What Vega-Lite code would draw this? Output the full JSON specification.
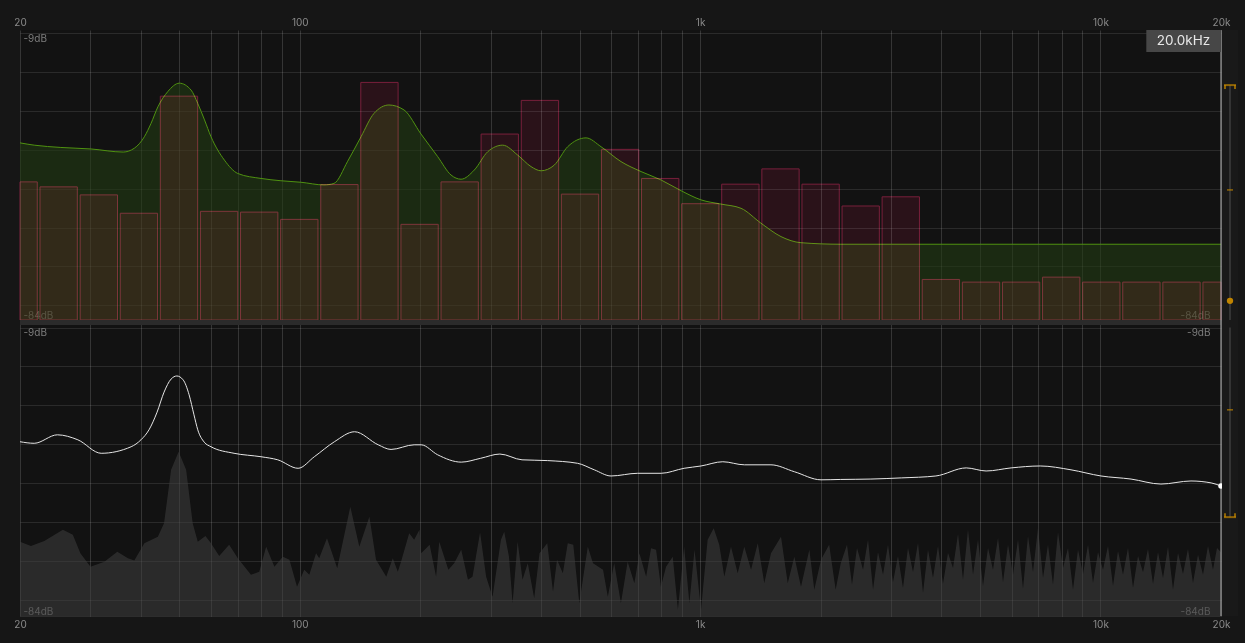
{
  "$schema": "https://vega.github.io/schema/vega-lite/v6.json",
  "background": "#161616",
  "padding": {"left": 13, "top": 17, "right": 20, "bottom": 20},
  "config": {"view": {"fill": "#121212", "stroke": null}, "font": "Inter"},
  "columns": 2,
  "spacing": {"row": 0, "column": 1},
  "bounds": "flush",
  "datasets": {
    "cursor": [{"f": 20000, "label": "20.0kHz"}],
    "sliderTop": [{"hi": -22.6, "mid": -50.0, "val": -79.0}],
    "sliderBot": [{"hi": -9.0, "mid": -30.4, "lo": -58.3}],
    "bars": [
      {"f0": 20, "f1": 22.09, "db": -47.9}, {"f0": 22.44, "f1": 27.81, "db": -49.2}, {"f0": 28.27, "f1": 35.04, "db": -51.3},
      {"f0": 35.6, "f1": 44.12, "db": -56.1}, {"f0": 44.83, "f1": 55.56, "db": -25.5}, {"f0": 56.46, "f1": 69.98, "db": -55.6},
      {"f0": 71.11, "f1": 88.13, "db": -55.8}, {"f0": 89.55, "f1": 111.0, "db": -57.7}, {"f0": 112.8, "f1": 139.8, "db": -48.6},
      {"f0": 142.0, "f1": 176.0, "db": -21.9}, {"f0": 178.9, "f1": 221.7, "db": -59.0}, {"f0": 225.3, "f1": 279.2, "db": -47.9},
      {"f0": 283.7, "f1": 351.6, "db": -35.4}, {"f0": 357.4, "f1": 443.0, "db": -26.6}, {"f0": 450.1, "f1": 557.8, "db": -51.1},
      {"f0": 566.8, "f1": 702.5, "db": -39.4}, {"f0": 713.8, "f1": 884.7, "db": -47.0}, {"f0": 899.0, "f1": 1114, "db": -53.6},
      {"f0": 1132, "f1": 1403, "db": -48.5}, {"f0": 1426, "f1": 1767, "db": -44.5}, {"f0": 1796, "f1": 2226, "db": -48.5},
      {"f0": 2262, "f1": 2803, "db": -54.2}, {"f0": 2848, "f1": 3530, "db": -51.8}, {"f0": 3587, "f1": 4446, "db": -73.4},
      {"f0": 4518, "f1": 5600, "db": -74.1}, {"f0": 5690, "f1": 7052, "db": -74.1}, {"f0": 7166, "f1": 8882, "db": -72.8},
      {"f0": 9025, "f1": 11186, "db": -74.1}, {"f0": 11366, "f1": 14087, "db": -74.1}, {"f0": 14315, "f1": 17742, "db": -74.1},
      {"f0": 18028, "f1": 20000, "db": -74.1}
    ],
    "eq": [
      {"f": 20, "db": -37.7}, {"f": 21.7, "db": -38.3}, {"f": 25.3, "db": -38.9}, {"f": 30.1, "db": -39.3}, {"f": 36.2, "db": -40.1},
      {"f": 38.6, "db": -39.1}, {"f": 40.9, "db": -36.1}, {"f": 42.5, "db": -32.6}, {"f": 44.2, "db": -28.3}, {"f": 46.8, "db": -24.3},
      {"f": 50.0, "db": -22.1}, {"f": 53.5, "db": -23.9}, {"f": 55.6, "db": -27.4}, {"f": 57.8, "db": -31.7}, {"f": 60.0, "db": -36.1},
      {"f": 64.8, "db": -42.2}, {"f": 70.0, "db": -45.7}, {"f": 80, "db": -47.0}, {"f": 89.7, "db": -47.6}, {"f": 100.7, "db": -48.0},
      {"f": 114.9, "db": -48.7}, {"f": 121.7, "db": -48.3}, {"f": 131.7, "db": -42.5}, {"f": 142.2, "db": -36.1}, {"f": 153.2, "db": -30.0},
      {"f": 167, "db": -27.8}, {"f": 182.1, "db": -29.1}, {"f": 200.8, "db": -35.4}, {"f": 221, "db": -41.3}, {"f": 238.6, "db": -46.1},
      {"f": 252.8, "db": -47.2}, {"f": 272.8, "db": -44.8}, {"f": 294.8, "db": -40.0}, {"f": 321.2, "db": -38.3}, {"f": 350.2, "db": -40.9},
      {"f": 378, "db": -43.9}, {"f": 400.4, "db": -45.0}, {"f": 432.2, "db": -43.5}, {"f": 466.8, "db": -38.7}, {"f": 518.8, "db": -36.4},
      {"f": 565.4, "db": -38.7}, {"f": 634.3, "db": -42.6}, {"f": 711.7, "db": -45.2}, {"f": 798.6, "db": -47.4}, {"f": 895.8, "db": -50.2},
      {"f": 1005, "db": -52.6}, {"f": 1127, "db": -53.7}, {"f": 1265, "db": -54.8}, {"f": 1419, "db": -58.7}, {"f": 1592, "db": -62.2},
      {"f": 1787, "db": -63.8}, {"f": 2248, "db": -64.2}, {"f": 20000, "db": -64.2}
    ],
    "resp": [
      {"f": 20, "db": -38.7}, {"f": 21.7, "db": -39.1}, {"f": 24.8, "db": -36.9}, {"f": 27.9, "db": -38.2}, {"f": 31.9, "db": -41.7},
      {"f": 37.9, "db": -40.0}, {"f": 40.1, "db": -38.2}, {"f": 42.0, "db": -35.6}, {"f": 44.0, "db": -31.0}, {"f": 45.8, "db": -25.8},
      {"f": 47.7, "db": -22.4}, {"f": 49.3, "db": -21.6}, {"f": 51.1, "db": -22.6}, {"f": 52.9, "db": -26.5}, {"f": 54.4, "db": -31.7},
      {"f": 55.6, "db": -35.6}, {"f": 57.7, "db": -38.8}, {"f": 60.0, "db": -40.0}, {"f": 68.5, "db": -41.7}, {"f": 80.0, "db": -42.6},
      {"f": 88.1, "db": -43.4}, {"f": 99.0, "db": -45.6}, {"f": 108.7, "db": -42.6}, {"f": 122, "db": -38.7}, {"f": 137, "db": -36.1},
      {"f": 157, "db": -39.5}, {"f": 169, "db": -40.7}, {"f": 193, "db": -39.5}, {"f": 201, "db": -39.5}, {"f": 221, "db": -42.1},
      {"f": 253, "db": -44.0}, {"f": 283, "db": -43.0}, {"f": 316, "db": -41.9}, {"f": 359, "db": -43.4}, {"f": 416, "db": -43.6},
      {"f": 494, "db": -44.3}, {"f": 544, "db": -46.0}, {"f": 599, "db": -47.6}, {"f": 698, "db": -46.9}, {"f": 799, "db": -46.9},
      {"f": 912, "db": -45.6}, {"f": 1005, "db": -45.0}, {"f": 1139, "db": -43.9}, {"f": 1290, "db": -44.7}, {"f": 1503, "db": -44.7},
      {"f": 1720, "db": -46.5}, {"f": 2004, "db": -48.6}, {"f": 2245, "db": -48.5}, {"f": 2670, "db": -48.4}, {"f": 3180, "db": -48.1},
      {"f": 3880, "db": -47.6}, {"f": 4620, "db": -45.5}, {"f": 5180, "db": -46.3}, {"f": 5980, "db": -45.5}, {"f": 7070, "db": -45.0},
      {"f": 8440, "db": -46.0}, {"f": 10030, "db": -47.6}, {"f": 11920, "db": -48.4}, {"f": 14160, "db": -49.7}, {"f": 16830, "db": -48.9},
      {"f": 18900, "db": -49.4}, {"f": 20000, "db": -50.2}
    ],
    "spec": [
      {"f": 20, "db": -64.7}, {"f": 21.3, "db": -65.8}, {"f": 23.0, "db": -64.5}, {"f": 25.6, "db": -61.6}, {"f": 27.1, "db": -62.9},
      {"f": 28.3, "db": -67.7}, {"f": 30.0, "db": -71.2}, {"f": 32.5, "db": -69.9}, {"f": 35.0, "db": -67.3}, {"f": 37.2, "db": -69.0},
      {"f": 38.6, "db": -69.6}, {"f": 40.9, "db": -65.1}, {"f": 44.2, "db": -63.4}, {"f": 45.8, "db": -59.9}, {"f": 47.7, "db": -46.0},
      {"f": 49.8, "db": -41.3}, {"f": 52.0, "db": -46.0}, {"f": 54.0, "db": -59.9}, {"f": 55.6, "db": -64.7}, {"f": 58.1, "db": -63.2},
      {"f": 60.0, "db": -65.1}, {"f": 62.9, "db": -68.4}, {"f": 66.6, "db": -65.5}, {"f": 70.0, "db": -69.0}, {"f": 75.5, "db": -73.3},
      {"f": 79.2, "db": -72.5}, {"f": 82.4, "db": -66.0}, {"f": 86.4, "db": -71.2}, {"f": 90.7, "db": -68.6}, {"f": 94.2, "db": -69.4},
      {"f": 98.4, "db": -76.4}, {"f": 102.6, "db": -72.0}, {"f": 105.6, "db": -73.3}, {"f": 109.8, "db": -67.7}, {"f": 111.8, "db": -69.0},
      {"f": 116.9, "db": -63.8}, {"f": 124.0, "db": -71.6}, {"f": 133.7, "db": -55.6}, {"f": 140.8, "db": -66.0}, {"f": 149.2, "db": -58.2},
      {"f": 155, "db": -69.4}, {"f": 164.4, "db": -73.8}, {"f": 170.7, "db": -69.0}, {"f": 175.7, "db": -72.5}, {"f": 179, "db": -69.9},
      {"f": 187.6, "db": -62.5}, {"f": 193, "db": -64.2}, {"f": 199, "db": -61.6}, {"f": 201, "db": -67.7}, {"f": 211, "db": -65.5},
      {"f": 219, "db": -73.8}, {"f": 223, "db": -64.7}, {"f": 235, "db": -72.0}, {"f": 243, "db": -70.3}, {"f": 253, "db": -66.8},
      {"f": 263, "db": -74.6}, {"f": 270, "db": -73.8}, {"f": 282, "db": -62.3}, {"f": 292, "db": -73.8}, {"f": 303, "db": -79.0},
      {"f": 318, "db": -64.2}, {"f": 324, "db": -62.1}, {"f": 333, "db": -68.6}, {"f": 340, "db": -80.7}, {"f": 350, "db": -64.7},
      {"f": 360, "db": -74.6}, {"f": 371, "db": -70.3}, {"f": 385, "db": -79.4}, {"f": 397, "db": -67.7}, {"f": 415, "db": -65.1},
      {"f": 429, "db": -77.7}, {"f": 439, "db": -69.4}, {"f": 454, "db": -72.9}, {"f": 467, "db": -65.1}, {"f": 482, "db": -65.5},
      {"f": 499, "db": -80.7}, {"f": 524, "db": -66.0}, {"f": 540, "db": -70.3}, {"f": 572, "db": -72.0}, {"f": 588, "db": -79.0},
      {"f": 610, "db": -70.3}, {"f": 634, "db": -80.7}, {"f": 659, "db": -69.9}, {"f": 685, "db": -75.5}, {"f": 705, "db": -67.7},
      {"f": 733, "db": -73.8}, {"f": 754, "db": -66.4}, {"f": 776, "db": -66.8}, {"f": 798, "db": -76.4}, {"f": 822, "db": -71.2},
      {"f": 854, "db": -68.6}, {"f": 880, "db": -82.4}, {"f": 912, "db": -66.0}, {"f": 940, "db": -80.7}, {"f": 968, "db": -66.8},
      {"f": 1005, "db": -82.4}, {"f": 1044, "db": -64.2}, {"f": 1081, "db": -61.2}, {"f": 1116, "db": -65.5}, {"f": 1149, "db": -73.8},
      {"f": 1194, "db": -66.0}, {"f": 1241, "db": -72.9}, {"f": 1289, "db": -66.0}, {"f": 1340, "db": -72.0}, {"f": 1393, "db": -65.1},
      {"f": 1446, "db": -75.5}, {"f": 1503, "db": -67.7}, {"f": 1592, "db": -63.4}, {"f": 1655, "db": -75.5}, {"f": 1719, "db": -68.6},
      {"f": 1786, "db": -76.4}, {"f": 1874, "db": -66.8}, {"f": 1928, "db": -77.2}, {"f": 2004, "db": -69.4}, {"f": 2100, "db": -65.5},
      {"f": 2180, "db": -77.2}, {"f": 2245, "db": -70.3}, {"f": 2327, "db": -65.5}, {"f": 2395, "db": -75.9}, {"f": 2465, "db": -66.3},
      {"f": 2552, "db": -72.0}, {"f": 2626, "db": -64.2}, {"f": 2703, "db": -77.2}, {"f": 2781, "db": -67.4}, {"f": 2863, "db": -73.3},
      {"f": 2946, "db": -65.5}, {"f": 3032, "db": -75.2}, {"f": 3120, "db": -68.4}, {"f": 3211, "db": -76.7}, {"f": 3305, "db": -66.3},
      {"f": 3402, "db": -72.6}, {"f": 3501, "db": -65.0}, {"f": 3603, "db": -78.0}, {"f": 3708, "db": -66.8}, {"f": 3816, "db": -74.1},
      {"f": 3928, "db": -65.8}, {"f": 4042, "db": -75.7}, {"f": 4160, "db": -67.6}, {"f": 4282, "db": -71.5}, {"f": 4407, "db": -62.7},
      {"f": 4535, "db": -74.6}, {"f": 4667, "db": -61.6}, {"f": 4804, "db": -73.3}, {"f": 4944, "db": -64.2}, {"f": 5088, "db": -76.2},
      {"f": 5237, "db": -66.3}, {"f": 5389, "db": -72.0}, {"f": 5547, "db": -63.7}, {"f": 5708, "db": -75.2}, {"f": 5875, "db": -65.5},
      {"f": 6046, "db": -73.3}, {"f": 6223, "db": -64.2}, {"f": 6404, "db": -77.0}, {"f": 6591, "db": -63.2}, {"f": 6783, "db": -72.6},
      {"f": 6981, "db": -61.1}, {"f": 7185, "db": -74.1}, {"f": 7394, "db": -65.5}, {"f": 7610, "db": -75.9}, {"f": 7832, "db": -62.2},
      {"f": 8061, "db": -71.5}, {"f": 8296, "db": -66.3}, {"f": 8538, "db": -77.2}, {"f": 8787, "db": -66.8}, {"f": 9044, "db": -73.1},
      {"f": 9308, "db": -65.5}, {"f": 9579, "db": -75.4}, {"f": 9859, "db": -67.4}, {"f": 10146, "db": -72.0}, {"f": 10442, "db": -65.8},
      {"f": 10747, "db": -76.2}, {"f": 11060, "db": -67.1}, {"f": 11383, "db": -73.3}, {"f": 11715, "db": -66.3}, {"f": 12057, "db": -76.7},
      {"f": 12409, "db": -68.4}, {"f": 12771, "db": -72.6}, {"f": 13143, "db": -66.6}, {"f": 13527, "db": -75.7}, {"f": 13921, "db": -67.4},
      {"f": 14328, "db": -74.1}, {"f": 14746, "db": -66.0}, {"f": 15176, "db": -77.2}, {"f": 15619, "db": -67.6}, {"f": 16074, "db": -73.1},
      {"f": 16543, "db": -66.6}, {"f": 17025, "db": -75.4}, {"f": 17522, "db": -68.1}, {"f": 18033, "db": -73.3}, {"f": 18560, "db": -65.8},
      {"f": 19101, "db": -72.0}, {"f": 19546, "db": -66.3}, {"f": 20000, "db": -67.4}
    ]
  },
  "concat": [
    {
      "width": 1201,
      "height": 290,
      "resolve": {"axis": {"y": "independent"}},
      "layer": [
        {
          "data": {"name": "eq"},
          "mark": {"type": "area", "interpolate": "monotone", "fill": "#213a12", "fillOpacity": 0.6,
                   "line": {"color": "#4f9210", "strokeWidth": 1}},
          "encoding": {
            "x": {"field": "f", "type": "quantitative", "scale": {"type": "log", "domain": [20, 20000], "nice": false},
                  "axis": {"orient": "top", "title": null, "values": [20,30,40,50,60,70,80,90,100,200,300,400,500,600,700,800,900,1000,2000,3000,4000,5000,6000,7000,8000,9000,10000,20000],
                           "labelExpr": "datum.value == 20 ? '20' : datum.value == 100 ? '100' : datum.value == 1000 ? '1k' : datum.value == 10000 ? '10k' : datum.value == 20000 ? '20k' : ''",
                           "grid": true, "gridColor": "#ffffff", "gridOpacity": 0.15, "ticks": false, "tickSize": 0, "domain": false,
                           "labelColor": "#8a8a8a", "labelFontSize": 10, "labelPadding": 3, "labelFlush": false, "labelOverlap": false}},
            "y": {"field": "db", "type": "quantitative", "scale": {"domain": [-84, -8.2], "nice": false, "zero": false},
                  "axis": {"orient": "left", "title": null, "values": [-9, -19.19, -29.38, -39.57, -49.76, -59.95, -70.0, -80.2, -84],
                           "labelExpr": "datum.value == -9 ? '-9dB' : datum.value == -84 ? '-84dB' : ''",
                           "grid": true, "gridColor": "#ffffff", "gridOpacity": 0.1, "ticks": false, "tickSize": 0, "domain": false,
                           "labelAlign": "left", "labelPadding": -3, "labelColor": "#7d7d7d", "labelFontSize": 10,
                           "labelBaseline": {"condition": {"test": "datum.value == -9", "value": "top"}, "value": "bottom"},
                           "labelFlush": false, "labelOverlap": false}},
            "y2": {"datum": -84}
          }
        },
        {
          "data": {"name": "bars"},
          "mark": {"type": "rect", "fill": "#1a0008", "stroke": "#6e0e2c", "strokeWidth": 1, "blend": "screen"},
          "encoding": {
            "x": {"field": "f0", "type": "quantitative", "scale": {"type": "log", "domain": [20, 20000], "nice": false}},
            "x2": {"field": "f1"},
            "y": {"field": "db", "type": "quantitative", "scale": {"domain": [-84, -8.2], "nice": false, "zero": false},
                  "axis": {"orient": "right", "title": null, "values": [-84], "labelExpr": "'-84dB'", "grid": false,
                           "ticks": false, "tickSize": 0, "domain": false, "labelAlign": "right", "labelPadding": -11,
                           "labelBaseline": "bottom", "labelColor": "#7d7d7d", "labelFontSize": 10, "labelFlush": false}},
            "y2": {"datum": -84}
          }
        },
        {
          "data": {"name": "cursor"},
          "mark": {"type": "rule", "color": "#b4b4b4", "strokeWidth": 1},
          "encoding": {"x": {"field": "f", "type": "quantitative", "scale": {"type": "log", "domain": [20, 20000], "nice": false}}}
        },
        {
          "data": {"name": "cursor"},
          "mark": {"type": "rect", "fill": "#474747"},
          "encoding": {
            "x": {"field": "f", "type": "quantitative", "scale": {"type": "log", "domain": [20, 20000], "nice": false}},
            "x2": {"datum": 13015},
            "y": {"datum": -8.2, "type": "quantitative", "scale": {"domain": [-84, -8.2], "nice": false, "zero": false}, "axis": null},
            "y2": {"datum": -13.96}
          }
        },
        {
          "data": {"name": "cursor"},
          "mark": {"type": "text", "color": "#e8e8e8", "fontSize": 13.5, "align": "center", "baseline": "middle"},
          "encoding": {
            "x": {"datum": 16120, "type": "quantitative", "scale": {"type": "log", "domain": [20, 20000], "nice": false}},
            "y": {"datum": -11.1, "type": "quantitative", "scale": {"domain": [-84, -8.2], "nice": false, "zero": false}, "axis": null},
            "text": {"field": "label"}
          }
        }
      ]
    },
    {
      "width": 16,
      "height": 290,
      "view": {"fill": "#191919", "stroke": null},
      "data": {"name": "sliderTop"},
      "encoding": {
        "x": {"datum": 0, "type": "quantitative", "scale": {"domain": [-1, 1]}, "axis": null}
      },
      "layer": [
        {
          "mark": {"type": "rule", "color": "#3e3e3e", "strokeWidth": 1.5},
          "encoding": {"y": {"field": "hi", "type": "quantitative", "scale": {"domain": [-84, -8.2], "nice": false, "zero": false}, "axis": null}, "y2": {"datum": -84}}
        },
        {
          "mark": {"type": "tick", "orient": "horizontal", "color": "#c08400", "size": 12, "thickness": 2},
          "encoding": {"y": {"field": "hi", "type": "quantitative", "scale": {"domain": [-84, -8.2], "nice": false, "zero": false}, "axis": null}}
        },
        {
          "mark": {"type": "tick", "orient": "vertical", "color": "#c08400", "size": 4, "thickness": 2, "xOffset": -5, "yOffset": 2},
          "encoding": {"y": {"field": "hi", "type": "quantitative", "scale": {"domain": [-84, -8.2], "nice": false, "zero": false}, "axis": null}}
        },
        {
          "mark": {"type": "tick", "orient": "vertical", "color": "#c08400", "size": 4, "thickness": 2, "xOffset": 5, "yOffset": 2},
          "encoding": {"y": {"field": "hi", "type": "quantitative", "scale": {"domain": [-84, -8.2], "nice": false, "zero": false}, "axis": null}}
        },
        {
          "mark": {"type": "tick", "orient": "horizontal", "color": "#c08400", "size": 6, "thickness": 1.5},
          "encoding": {"y": {"field": "mid", "type": "quantitative", "scale": {"domain": [-84, -8.2], "nice": false, "zero": false}, "axis": null}}
        },
        {
          "mark": {"type": "point", "filled": true, "color": "#c08400", "size": 40, "opacity": 1},
          "encoding": {"y": {"field": "val", "type": "quantitative", "scale": {"domain": [-84, -8.2], "nice": false, "zero": false}, "axis": null}}
        }
      ]
    },
    {
      "width": 1201,
      "height": 296,
      "resolve": {"axis": {"y": "independent"}},
      "layer": [
        {
          "data": {"name": "spec"},
          "mark": {"type": "area", "interpolate": "linear", "fill": "#3f3f3f", "fillOpacity": 0.56},
          "encoding": {
            "x": {"field": "f", "type": "quantitative", "scale": {"type": "log", "domain": [20, 20000], "nice": false},
                  "axis": {"orient": "bottom", "title": null, "values": [20,30,40,50,60,70,80,90,100,200,300,400,500,600,700,800,900,1000,2000,3000,4000,5000,6000,7000,8000,9000,10000,20000],
                           "labelExpr": "datum.value == 20 ? '20' : datum.value == 100 ? '100' : datum.value == 1000 ? '1k' : datum.value == 10000 ? '10k' : datum.value == 20000 ? '20k' : ''",
                           "grid": true, "gridColor": "#ffffff", "gridOpacity": 0.15, "ticks": false, "tickSize": 0, "domain": false,
                           "labelColor": "#8a8a8a", "labelFontSize": 10, "labelPadding": 3, "labelFlush": false, "labelOverlap": false}},
            "y": {"field": "db", "type": "quantitative", "scale": {"domain": [-84, -7.05], "nice": false, "zero": false},
                  "axis": {"orient": "left", "title": null, "values": [-9, -19.07, -29.15, -39.28, -49.42, -59.56, -69.7, -79.84, -84],
                           "labelExpr": "datum.value == -9 ? '-9dB' : datum.value == -84 ? '-84dB' : ''",
                           "grid": true, "gridColor": "#ffffff", "gridOpacity": 0.1, "ticks": false, "tickSize": 0, "domain": false,
                           "labelAlign": "left", "labelPadding": -3, "labelColor": "#7d7d7d", "labelFontSize": 10,
                           "labelBaseline": {"condition": {"test": "datum.value == -9", "value": "top"}, "value": "bottom"},
                           "labelFlush": false, "labelOverlap": false}},
            "y2": {"datum": -84}
          }
        },
        {
          "data": {"name": "resp"},
          "mark": {"type": "line", "interpolate": "monotone", "color": "#e6e6e6", "strokeWidth": 1},
          "encoding": {
            "x": {"field": "f", "type": "quantitative", "scale": {"type": "log", "domain": [20, 20000], "nice": false}},
            "y": {"field": "db", "type": "quantitative", "scale": {"domain": [-84, -7.05], "nice": false, "zero": false},
                  "axis": {"orient": "right", "title": null, "values": [-9, -84], "labelExpr": "datum.value == -9 ? '-9dB' : '-84dB'", "grid": false,
                           "ticks": false, "tickSize": 0, "domain": false, "labelAlign": "right", "labelPadding": -11,
                           "labelBaseline": {"condition": {"test": "datum.value == -9", "value": "top"}, "value": "bottom"},
                           "labelColor": "#7d7d7d", "labelFontSize": 10, "labelFlush": false}}
          }
        },
        {
          "data": {"name": "cursor"},
          "mark": {"type": "rect", "fill": "#2b2b2b"},
          "encoding": {
            "x": {"field": "f", "type": "quantitative", "scale": {"type": "log", "domain": [20, 20000], "nice": false}},
            "x2": {"datum": 20},
            "y": {"datum": -7.05, "type": "quantitative", "scale": {"domain": [-84, -7.05], "nice": false, "zero": false}, "axis": null},
            "y2": {"datum": -8.35}
          }
        },
        {
          "data": {"name": "cursor"},
          "mark": {"type": "rule", "color": "#b4b4b4", "strokeWidth": 1},
          "encoding": {"x": {"field": "f", "type": "quantitative", "scale": {"type": "log", "domain": [20, 20000], "nice": false}}}
        },
        {
          "data": {"name": "resp"},
          "transform": [{"filter": "datum.f == 20000"}],
          "mark": {"type": "point", "filled": true, "color": "#ffffff", "size": 30, "opacity": 1},
          "encoding": {
            "x": {"field": "f", "type": "quantitative", "scale": {"type": "log", "domain": [20, 20000], "nice": false}},
            "y": {"field": "db", "type": "quantitative", "scale": {"domain": [-84, -7.05], "nice": false, "zero": false}, "axis": null}
          }
        }
      ]
    },
    {
      "width": 16,
      "height": 296,
      "view": {"fill": "#191919", "stroke": null},
      "data": {"name": "sliderBot"},
      "encoding": {
        "x": {"datum": 0, "type": "quantitative", "scale": {"domain": [-1, 1]}, "axis": null}
      },
      "layer": [
        {
          "mark": {"type": "rule", "color": "#3e3e3e", "strokeWidth": 1.5},
          "encoding": {"y": {"field": "hi", "type": "quantitative", "scale": {"domain": [-84, -7.05], "nice": false, "zero": false}, "axis": null}, "y2": {"field": "lo"}}
        },
        {
          "mark": {"type": "tick", "orient": "horizontal", "color": "#c08400", "size": 12, "thickness": 2},
          "encoding": {"y": {"field": "lo", "type": "quantitative", "scale": {"domain": [-84, -7.05], "nice": false, "zero": false}, "axis": null}}
        },
        {
          "mark": {"type": "tick", "orient": "vertical", "color": "#c08400", "size": 4, "thickness": 2, "xOffset": -5, "yOffset": -2},
          "encoding": {"y": {"field": "lo", "type": "quantitative", "scale": {"domain": [-84, -7.05], "nice": false, "zero": false}, "axis": null}}
        },
        {
          "mark": {"type": "tick", "orient": "vertical", "color": "#c08400", "size": 4, "thickness": 2, "xOffset": 5, "yOffset": -2},
          "encoding": {"y": {"field": "lo", "type": "quantitative", "scale": {"domain": [-84, -7.05], "nice": false, "zero": false}, "axis": null}}
        },
        {
          "mark": {"type": "tick", "orient": "horizontal", "color": "#c08400", "size": 6, "thickness": 1.5},
          "encoding": {"y": {"field": "mid", "type": "quantitative", "scale": {"domain": [-84, -7.05], "nice": false, "zero": false}, "axis": null}}
        }
      ]
    }
  ]
}
